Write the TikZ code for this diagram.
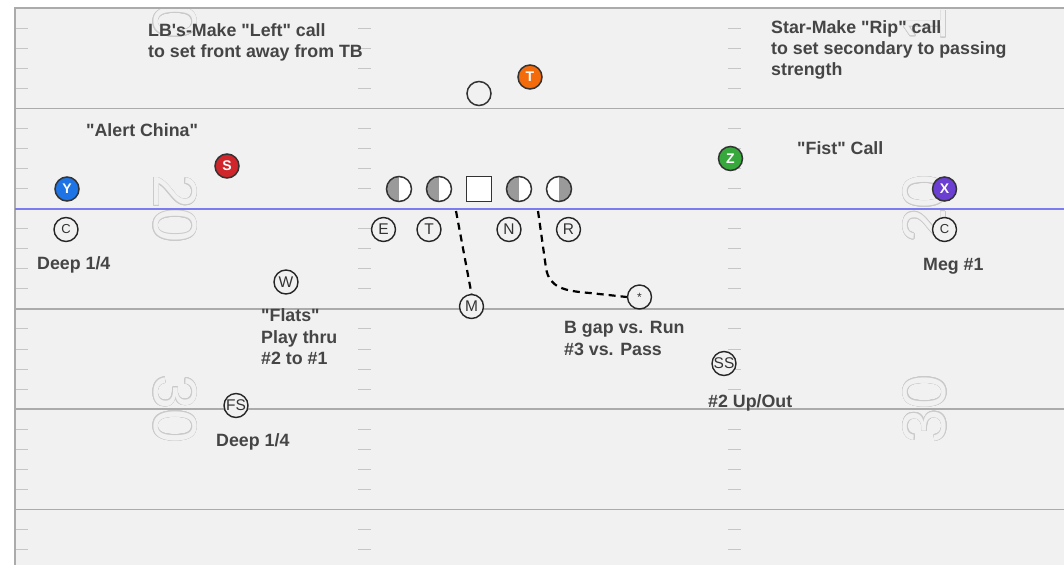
\documentclass[tikz,border=0pt]{standalone}
\usepackage{fontspec}
\newfontfamily\fieldfont{Liberation Sans}
\usepackage{xcolor}
\usepackage{contour}
\contourlength{0.6pt}
\usepackage{tikz}
\usetikzlibrary{shapes}

\definecolor{fieldbg}{HTML}{F1F1F1}
\definecolor{yardgray}{HTML}{ABABAB}
\definecolor{hashgray}{HTML}{C6C6C6}
\definecolor{numgray}{HTML}{CACACA}
\definecolor{losblue}{HTML}{7C7CF0}
\definecolor{inkgray}{HTML}{454545}
\definecolor{olgray}{HTML}{9A9A9A}
\definecolor{ycol}{HTML}{1E74E4}
\definecolor{scol}{HTML}{D0262B}
\definecolor{tcol}{HTML}{F36B0A}
\definecolor{zcol}{HTML}{36A83C}
\definecolor{xcol}{HTML}{6A3FD1}

\begin{document}
\begin{tikzpicture}[x=1pt, y=-1pt,
    offense/.style={circle, draw=black!80, line width=1.5pt, minimum size=24pt, inner sep=0pt, text=white, font=\fieldfont\bfseries\fontsize{14}{14}\selectfont},
    defender/.style={circle, draw=black!85, line width=1.4pt, fill=fieldbg, minimum size=24pt, inner sep=0pt, text=black!80, font=\fieldfont\fontsize{15.5}{15.5}\selectfont},
    lineman/.style={circle, draw=black!80, line width=1.5pt, fill=white, minimum size=25pt, inner sep=0pt},
    leftgray/.style={lineman, path picture={\fill[olgray] (path picture bounding box.south west) rectangle (path picture bounding box.north);}},
    rightgray/.style={lineman, path picture={\fill[olgray] (path picture bounding box.south east) rectangle (path picture bounding box.north);}},
    note/.style={anchor=base west, align=left, inner sep=0pt, text=inkgray, font=\fieldfont\bfseries\fontsize{17.8}{21.2}\selectfont},
    yardline/.style={draw=yardgray, line width=1.5pt},
    hash/.style={draw=hashgray, line width=1pt},
    fieldnum/.style={inner sep=0pt, text=fieldbg, font=\fieldfont\fontsize{61}{61}\selectfont},
    route/.style={draw=black, line width=2.2pt, dash pattern=on 7pt off 5pt}]

    \useasboundingbox (0,0) rectangle (1064,565);

    % Field
    \fill[fieldbg] (15,8) rectangle (1064,565);
    \begin{scope}
        \clip (15,8) rectangle (1064,565);
        % hash marks
        \foreach \k in {0,...,5}
            \foreach \j in {1,...,4} {
                \draw[hash] (16,{8+100.3*\k+20.06*\j}) -- ++(12,0);
                \draw[hash] (358,{8+100.3*\k+20.06*\j}) -- ++(13,0);
                \draw[hash] (728,{8+100.3*\k+20.06*\j}) -- ++(13,0);
            }
        % yard lines
        \foreach \k in {1,...,5}
            \draw[yardline] (15,{8+100.3*\k}) -- (1064,{8+100.3*\k});
        % numbers
        \node[fieldnum, rotate=-90] (numla) at (175,5) {\contour{numgray}{10}};
        \node[fieldnum, rotate=-90] (numlb) at (175,208.6) {\contour{numgray}{20}};
        \node[fieldnum, rotate=-90] (numlc) at (175,409.2) {\contour{numgray}{30}};
        \node[fieldnum, rotate=90] (numra) at (925,8) {\contour{numgray}{10}};
        \node[fieldnum, rotate=90] (numrb) at (925,208.6) {\contour{numgray}{20}};
        \node[fieldnum, rotate=90] (numrc) at (925,409.2) {\contour{numgray}{30}};
    \end{scope}
    \draw[yardline] (1064,8) -- (15,8) -- (15,565);

    % Line of scrimmage
    \draw[losblue, line width=2.5pt] (15,209) -- (1064,209);

    % Offense
    \node [offense, fill=ycol] (yrec) at (67,189) {Y};
    \node [offense, fill=scol] (srec) at (227,166) {S};
    \node [offense, fill=tcol] (tend) at (530,77) {T};
    \node [offense, fill=zcol] (zrec) at (730.5,158.5) {Z};
    \node [offense, fill=xcol] (xrec) at (944.5,189) {X};
    \node [circle, draw=black!80, line width=1.5pt, minimum size=24pt] (tb) at (479,93.5) {};
    \node [leftgray] (ltackle) at (399,189) {};
    \node [leftgray] (lguard) at (439,189) {};
    \node [rectangle, draw=black!80, line width=1.5pt, fill=white, minimum size=25pt, inner sep=0pt] (center) at (479,189) {};
    \node [leftgray] (rguard) at (519,189) {};
    \node [rightgray] (rtackle) at (559,189) {};

    % Defense
    \node [defender, font=\fieldfont\fontsize{13}{13}\selectfont] (lcorner) at (66,229.5) {C};
    \node [defender] (dend) at (383.5,229.5) {E};
    \node [defender] (dtackle) at (429,229.5) {T};
    \node [defender] (nose) at (509,229.5) {N};
    \node [defender] (rush) at (568.5,229.5) {R};
    \node [defender] (mike) at (471.5,306.5) {M};
    \node [defender, font=\fieldfont\fontsize{12}{12}\selectfont] (ast) at (639.5,297) {*};
    \node [defender] (sstrong) at (724,363.5) {SS};
    \node [defender, font=\fieldfont\fontsize{13}{13}\selectfont] (rcorner) at (944.5,229.5) {C};
    \node [defender] (will) at (286,282) {W};
    \node [defender] (sfree) at (236,405.5) {FS};

    % Routes
    \coordinate (mstart) at (456,211);
    \coordinate (astart) at (538,211);
    \draw [route] (mstart) -- (mike.north);
    \draw [route] (astart) -- (546,268) .. controls (549,288) and (565,291) .. (590,293) -- (ast.west);

    % Calls
    \node [note] (lbcall) at (148,57.3) {LB's-Make "Left" call\\to set front away from TB};
    \node [note] (ripcall) at (771,75.5) {Star-Make "Rip" call\\to set secondary to passing\\strength};
    \node [note] (china) at (86,136.7) {"Alert China"};
    \node [note] (fist) at (797,154) {"Fist" Call};
    \node [note] (deepc) at (37,269) {Deep 1/4};
    \node [note] (flats) at (261,364.3) {"Flats"\\Play thru\\\#2 to \#1};
    \node [note] (deepfs) at (216,446) {Deep 1/4};
    \node [note] (bgap) at (564,355) {B gap vs. Run\\\#3 vs. Pass};
    \node [note] (upout) at (708,407.3) {\#2 Up/Out};
    \node [note] (meg) at (923,270.7) {Meg \#1};

\end{tikzpicture}
\end{document}
